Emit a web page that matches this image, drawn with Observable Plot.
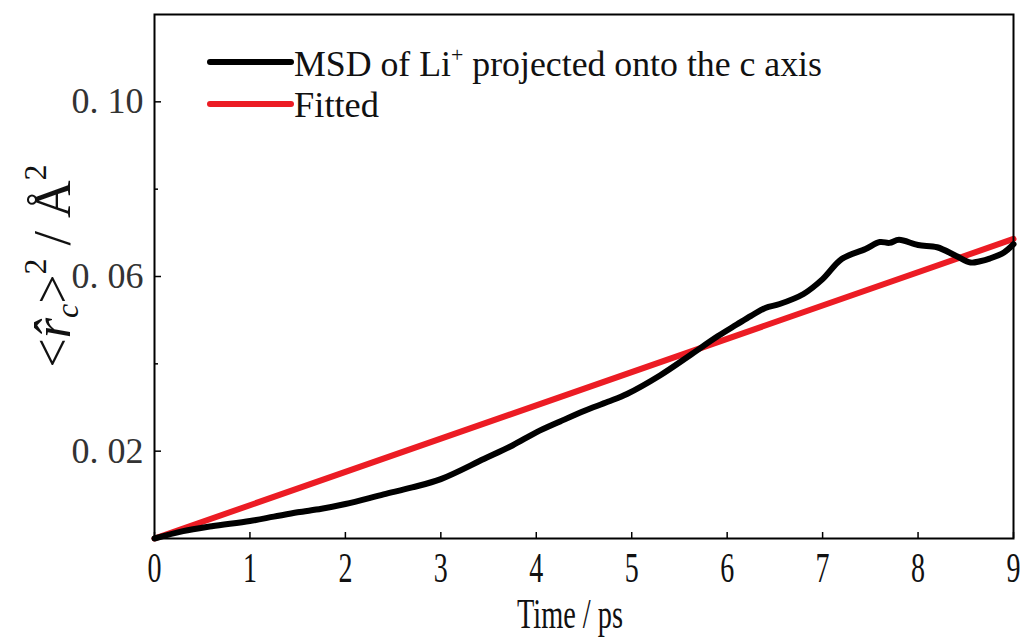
<!DOCTYPE html>
<html>
<head>
<meta charset="utf-8">
<script src="https://cdn.jsdelivr.net/npm/d3@7"></script>
<script src="https://cdn.jsdelivr.net/npm/@observablehq/plot@0.6"></script>
<style>
  html, body { margin: 0; padding: 0; background: #fff; }
  #chart svg { display: block; }
</style>
</head>
<body>
<div id="chart"></div>
<script>
// ---- data ----
const msdTime = [0, 0.3, 0.6, 1.0, 1.25, 1.5, 1.75, 2.0, 2.4, 2.7, 3.0, 3.45, 3.75, 4.0, 4.25, 4.5, 4.75, 4.95, 5.3, 5.6, 5.9, 6.1, 6.25, 6.4, 6.55, 6.8, 7.0, 7.2, 7.45, 7.6, 7.7, 7.8, 8.0, 8.2, 8.4, 8.55, 8.65, 8.75, 8.9, 9.0];
const msdValue = [0, 0.0017, 0.0028, 0.0040, 0.0050, 0.0060, 0.0068, 0.0079, 0.0101, 0.0117, 0.0136, 0.0182, 0.0213, 0.0243, 0.0268, 0.0292, 0.0313, 0.0331, 0.0374, 0.0418, 0.0463, 0.0490, 0.0510, 0.0528, 0.0537, 0.0560, 0.0594, 0.0640, 0.0663, 0.0679, 0.0677, 0.0684, 0.0672, 0.0667, 0.0647, 0.0632, 0.0635, 0.0641, 0.0655, 0.0674];
const fitTime = [0, 9];
const fitValue = [0, 0.0686];
const xTicks = [0, 1, 2, 3, 4, 5, 6, 7, 8, 9];
const yMajorTicks = [0.02, 0.06, 0.10];
const yMinorTicks = [0.04, 0.08];
const seriesNames = ["MSD of Li", "Fitted"];
const xLabel = "Time / ps";

const msd = msdTime.map((t, i) => ({t, v: msdValue[i]}));
const fit = fitTime.map((t, i) => ({t, v: fitValue[i]}));

const RED = "#ec1c24";
const SERIF = "'Liberation Serif', 'DejaVu Serif', serif";

const chart = Plot.plot({
  width: 1024,
  height: 641,
  marginLeft: 154,
  marginRight: 11,
  marginTop: 14,
  marginBottom: 103,
  style: {fontFamily: SERIF, background: "#fff", color: "#000"},
  x: {domain: [0, 9], label: null},
  y: {domain: [0, 0.12], label: null},
  marks: [
    Plot.line(fit, {x: "t", y: "v", stroke: RED, strokeWidth: 6}),
    Plot.line(msd, {x: "t", y: "v", stroke: "#000", strokeWidth: 6, strokeLinejoin: "round", curve: "catmull-rom"}),
    Plot.axisX(xTicks, {tickSize: -6, strokeWidth: 1.5, tickFormat: () => "", label: null}),
    Plot.axisX(xTicks, {tickSize: 0, tickPadding: 14, fontSize: 42, tickFormat: d => String(d), label: null, fill: "#111"}),
    Plot.axisY(yMajorTicks, {tickSize: -7, strokeWidth: 1.5, tickFormat: () => "", label: null}),
    Plot.axisY(yMinorTicks, {tickSize: -4, strokeWidth: 1.5, tickFormat: () => "", label: null}),
    Plot.axisY(yMajorTicks, {tickSize: 0, tickPadding: 11, fontSize: 36, tickFormat: d => d.toFixed(2).replace(".", ". "), label: null, fill: "#333"}),
    Plot.frame({stroke: "#000", strokeWidth: 2})
  ]
});

document.getElementById("chart").appendChild(chart);
const svg = d3.select(chart);

// condensed x tick labels
svg.selectAll('g[aria-label="x-axis tick label"] text')
  .attr("textLength", 14)
  .attr("lengthAdjust", "spacingAndGlyphs");

// x axis title
svg.append("text")
  .attr("x", 570).attr("y", 628)
  .attr("text-anchor", "middle")
  .attr("font-family", SERIF)
  .attr("font-size", 42)
  .attr("textLength", 106)
  .attr("lengthAdjust", "spacingAndGlyphs")
  .attr("fill", "#111")
  .text(xLabel);

// y axis title: <r̂c>² / Å²
const yl = svg.append("text")
  .attr("transform", "translate(70,266) rotate(-90)")
  .attr("text-anchor", "middle")
  .attr("font-family", SERIF)
  .attr("font-size", 52)
  .attr("fill", "#111");
yl.append("tspan").text("<");
yl.append("tspan").attr("font-style", "italic").text("r\u0302");
yl.append("tspan").attr("font-style", "italic").attr("font-size", 32).attr("dy", 8).text("c");
yl.append("tspan").attr("dy", -8).text(">");
yl.append("tspan").attr("font-size", 32).attr("dy", -24).text("2");
yl.append("tspan").attr("dy", 24).text(" / \u00C5");
yl.append("tspan").attr("font-size", 32).attr("dy", -24).text("2");

// legend
const legend = svg.append("g").attr("font-family", SERIF).attr("fill", "#111").attr("text-anchor", "start");
const rows = [{color: "#000", y: 62}, {color: RED, y: 104}];
rows.forEach(r => {
  legend.append("line")
    .attr("x1", 210).attr("x2", 291)
    .attr("y1", r.y).attr("y2", r.y)
    .attr("stroke", r.color).attr("stroke-width", 6).attr("stroke-linecap", "round");
});
const t1 = legend.append("text")
  .attr("x", 294).attr("y", 76)
  .attr("font-size", 36)
  .attr("text-anchor", "start")
  .attr("textLength", 528)
  .attr("lengthAdjust", "spacingAndGlyphs");
t1.append("tspan").text(seriesNames[0]);
t1.append("tspan").attr("font-size", 22).attr("dy", -14).text("+");
t1.append("tspan").attr("dy", 14).text(" projected onto the c axis");
legend.append("text")
  .attr("x", 294).attr("y", 117)
  .attr("font-size", 36)
  .attr("text-anchor", "start")
  .attr("textLength", 85)
  .attr("lengthAdjust", "spacingAndGlyphs")
  .text(seriesNames[1]);
</script>
</body>
</html>
